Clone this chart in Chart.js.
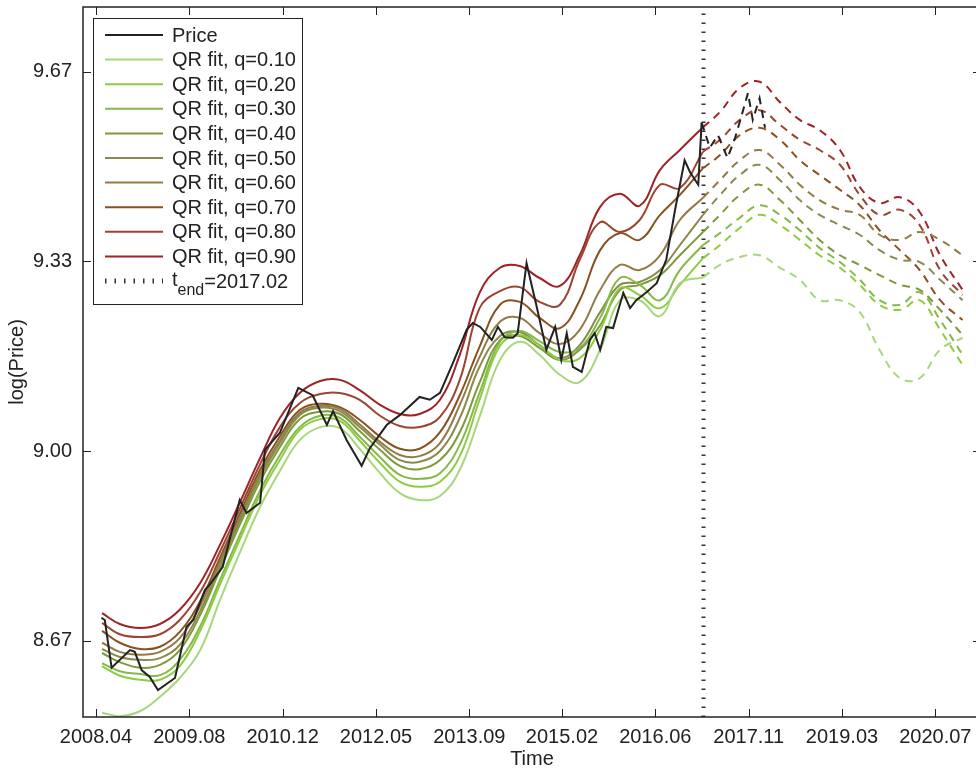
<!DOCTYPE html>
<html>
<head>
<meta charset="utf-8">
<script src="https://cdn.jsdelivr.net/npm/chart.js@4.4.0/dist/chart.umd.min.js"></script>
<style>
html, body { margin: 0; padding: 0; background: #fff; overflow: hidden; }
#wrap { width: 976px; height: 769px; overflow: hidden; }
canvas { display: block; }
</style>
</head>
<body>
<div id="wrap"><canvas id="c" width="1000" height="769"></canvas></div>
<script>
'use strict';
// Quantile-regression fits of log(price), in-sample (solid) and projected (dashed).

const T_END = 2017.16;
const X_TICKS = [2008.25, 2009.62, 2010.99, 2012.36, 2013.73, 2015.09, 2016.46, 2017.83, 2019.20, 2020.57];
const X_LABELS = ['2008.04', '2009.08', '2010.12', '2012.05', '2013.09', '2015.02', '2016.06', '2017.11', '2019.03', '2020.07'];
const Y_TICKS = [8.6667, 9.0, 9.3333, 9.6667];
const Y_LABELS = ['8.67', '9.00', '9.33', '9.67'];

const PRICE_T = [2008.33, 2008.38, 2008.48, 2008.75, 2008.82, 2008.92, 2009.04, 2009.16, 2009.41, 2009.58, 2009.68, 2009.85, 2009.92, 2010.11, 2010.36, 2010.46, 2010.66, 2010.73, 2010.95, 2011.22, 2011.43, 2011.64, 2011.73, 2011.93, 2012.15, 2012.27, 2012.52, 2012.71, 2013.00, 2013.15, 2013.30, 2013.49, 2013.69, 2013.78, 2013.89, 2014.06, 2014.15, 2014.25, 2014.37, 2014.44, 2014.57, 2014.72, 2014.86, 2014.99, 2015.08, 2015.16, 2015.25, 2015.38, 2015.50, 2015.57, 2015.65, 2015.74, 2015.84, 2015.99, 2016.09, 2016.18, 2016.33, 2016.48, 2016.62, 2016.75, 2016.89, 2016.97, 2017.09, 2017.14];
const PRICE_V = [8.707, 8.703, 8.619, 8.650, 8.647, 8.615, 8.603, 8.580, 8.601, 8.691, 8.703, 8.756, 8.765, 8.796, 8.914, 8.891, 8.909, 9.002, 9.032, 9.111, 9.098, 9.046, 9.070, 9.019, 8.974, 9.005, 9.046, 9.063, 9.095, 9.090, 9.102, 9.155, 9.213, 9.225, 9.218, 9.195, 9.218, 9.200, 9.199, 9.207, 9.330, 9.253, 9.178, 9.218, 9.160, 9.207, 9.148, 9.139, 9.195, 9.207, 9.178, 9.218, 9.216, 9.278, 9.251, 9.265, 9.279, 9.295, 9.336, 9.424, 9.511, 9.490, 9.468, 9.577];
const PRICE_OUT_T = [2017.14, 2017.26, 2017.38, 2017.52, 2017.63, 2017.73, 2017.82, 2017.89, 2017.99, 2018.07];
const PRICE_OUT_V = [9.577, 9.533, 9.555, 9.515, 9.550, 9.591, 9.629, 9.582, 9.620, 9.568];

const FIT_T = [2008.34, 2008.60, 2008.90, 2009.19, 2009.48, 2009.78, 2010.07, 2010.36, 2010.66, 2010.95, 2011.24, 2011.54, 2011.83, 2012.12, 2012.42, 2012.71, 2013.00, 2013.30, 2013.59, 2013.88, 2014.18, 2014.47, 2014.76, 2015.06, 2015.35, 2015.65, 2015.94, 2016.23, 2016.53, 2016.82, 2017.16];
const FIT_Q10 = [8.540, 8.534, 8.543, 8.568, 8.601, 8.650, 8.738, 8.821, 8.902, 8.965, 9.019, 9.042, 9.040, 9.004, 8.961, 8.926, 8.914, 8.921, 8.967, 9.060, 9.160, 9.192, 9.169, 9.134, 9.121, 9.178, 9.265, 9.265, 9.237, 9.295, 9.305];
const FIT_Q20 = [8.622, 8.605, 8.598, 8.598, 8.622, 8.684, 8.765, 8.844, 8.923, 8.984, 9.037, 9.056, 9.053, 9.018, 8.979, 8.946, 8.937, 8.946, 8.991, 9.090, 9.185, 9.204, 9.186, 9.160, 9.163, 9.213, 9.286, 9.274, 9.251, 9.292, 9.339];
const FIT_Q30 = [8.627, 8.613, 8.608, 8.606, 8.633, 8.692, 8.773, 8.852, 8.931, 8.993, 9.042, 9.062, 9.058, 9.025, 8.989, 8.958, 8.951, 8.961, 9.011, 9.102, 9.192, 9.211, 9.193, 9.174, 9.181, 9.234, 9.304, 9.292, 9.265, 9.318, 9.362];
const FIT_Q40 = [8.645, 8.629, 8.619, 8.624, 8.650, 8.712, 8.791, 8.870, 8.947, 9.007, 9.056, 9.069, 9.065, 9.035, 9.002, 8.974, 8.968, 8.984, 9.033, 9.120, 9.195, 9.202, 9.181, 9.160, 9.178, 9.221, 9.283, 9.292, 9.309, 9.344, 9.385];
const FIT_Q50 = [8.652, 8.638, 8.633, 8.636, 8.659, 8.719, 8.798, 8.877, 8.954, 9.014, 9.063, 9.076, 9.070, 9.042, 9.011, 8.984, 8.981, 9.000, 9.058, 9.148, 9.202, 9.209, 9.186, 9.163, 9.186, 9.244, 9.292, 9.297, 9.318, 9.362, 9.415];
const FIT_Q60 = [8.663, 8.647, 8.642, 8.647, 8.671, 8.728, 8.805, 8.882, 8.960, 9.019, 9.067, 9.079, 9.074, 9.047, 9.016, 8.993, 8.991, 9.014, 9.081, 9.165, 9.227, 9.234, 9.207, 9.188, 9.213, 9.283, 9.327, 9.318, 9.344, 9.406, 9.445];
const FIT_Q70 = [8.684, 8.663, 8.652, 8.656, 8.682, 8.736, 8.812, 8.889, 8.967, 9.026, 9.072, 9.083, 9.077, 9.055, 9.025, 9.004, 9.004, 9.033, 9.098, 9.183, 9.257, 9.262, 9.234, 9.216, 9.265, 9.353, 9.383, 9.371, 9.415, 9.450, 9.497];
const FIT_Q80 = [8.698, 8.678, 8.673, 8.678, 8.703, 8.752, 8.823, 8.898, 8.977, 9.042, 9.084, 9.100, 9.102, 9.090, 9.062, 9.044, 9.042, 9.060, 9.125, 9.251, 9.281, 9.288, 9.262, 9.257, 9.336, 9.402, 9.385, 9.406, 9.468, 9.462, 9.526];
const FIT_Q90 = [8.715, 8.696, 8.689, 8.696, 8.721, 8.768, 8.835, 8.909, 8.988, 9.058, 9.102, 9.123, 9.125, 9.107, 9.081, 9.065, 9.065, 9.090, 9.169, 9.278, 9.322, 9.325, 9.304, 9.290, 9.344, 9.429, 9.452, 9.431, 9.494, 9.529, 9.569];

const PROJ_T = [2017.16, 2017.41, 2017.70, 2017.99, 2018.29, 2018.58, 2018.87, 2019.17, 2019.46, 2019.75, 2020.05, 2020.34, 2020.64, 2020.97];
const PROJ_Q10 = [9.305, 9.327, 9.341, 9.344, 9.322, 9.301, 9.265, 9.265, 9.244, 9.178, 9.128, 9.128, 9.178, 9.199];
const PROJ_Q20 = [9.339, 9.362, 9.392, 9.415, 9.397, 9.371, 9.344, 9.322, 9.292, 9.257, 9.248, 9.265, 9.213, 9.151];
const PROJ_Q30 = [9.362, 9.383, 9.410, 9.432, 9.415, 9.388, 9.357, 9.332, 9.301, 9.265, 9.257, 9.279, 9.230, 9.169];
const PROJ_Q40 = [9.385, 9.415, 9.450, 9.468, 9.441, 9.406, 9.371, 9.344, 9.327, 9.309, 9.292, 9.283, 9.248, 9.204];
const PROJ_Q50 = [9.415, 9.450, 9.485, 9.503, 9.476, 9.441, 9.415, 9.397, 9.380, 9.353, 9.336, 9.332, 9.301, 9.265];
const PROJ_Q60 = [9.445, 9.476, 9.511, 9.529, 9.503, 9.468, 9.441, 9.424, 9.415, 9.380, 9.371, 9.385, 9.371, 9.344];
const PROJ_Q70 = [9.497, 9.520, 9.555, 9.568, 9.547, 9.511, 9.485, 9.459, 9.432, 9.388, 9.353, 9.318, 9.265, 9.230];
const PROJ_Q80 = [9.526, 9.547, 9.582, 9.599, 9.573, 9.547, 9.529, 9.503, 9.450, 9.415, 9.424, 9.397, 9.318, 9.274];
const PROJ_Q90 = [9.569, 9.596, 9.638, 9.649, 9.613, 9.582, 9.564, 9.529, 9.464, 9.436, 9.446, 9.420, 9.344, 9.283];

const Q_LABELS = ['0.10', '0.20', '0.30', '0.40', '0.50', '0.60', '0.70', '0.80', '0.90'];
const Q_COLORS = ['#a8d67c', '#8ccd3f', '#84b94a', '#7d9a39', '#8a8a4c', '#927b45', '#8a5120', '#9b4531', '#a02227'];
const FITS = [FIT_Q10, FIT_Q20, FIT_Q30, FIT_Q40, FIT_Q50, FIT_Q60, FIT_Q70, FIT_Q80, FIT_Q90];
const PROJS = [PROJ_Q10, PROJ_Q20, PROJ_Q30, PROJ_Q40, PROJ_Q50, PROJ_Q60, PROJ_Q70, PROJ_Q80, PROJ_Q90];

const FONT = '"Liberation Sans", Arial, Helvetica, sans-serif';
const INK = '#222';
Chart.defaults.font.family = FONT;
Chart.defaults.font.size = 20;
Chart.defaults.color = INK;

const pts = (t, v) => t.map((x, i) => ({ x, y: v[i] }));

const datasets = [
  { data: pts(PRICE_T, PRICE_V), borderColor: INK, borderWidth: 2, tension: 0 },
  { data: pts(PRICE_OUT_T, PRICE_OUT_V), borderColor: INK, borderWidth: 2, borderDash: [8, 6], tension: 0 },
];
FITS.forEach((v, i) => datasets.push({ data: pts(FIT_T, v), borderColor: Q_COLORS[i], borderWidth: 2, tension: 0.4 }));
PROJS.forEach((v, i) => datasets.push({ data: pts(PROJ_T, v), borderColor: Q_COLORS[i], borderWidth: 2, borderDash: [8, 6], tension: 0.4 }));
datasets.forEach(d => { d.pointRadius = 0; d.fill = false; });

// box, inward ticks, t_end marker and the legend
const decor = {
  id: 'decor',
  beforeDatasetsDraw(chart) {
    const { ctx, chartArea: a, scales: { x } } = chart;
    const px = Math.round(x.getPixelForValue(T_END)) + 0.5;
    ctx.save();
    ctx.strokeStyle = '#333'; ctx.lineWidth = 4; ctx.setLineDash([1.5, 7.5]);
    ctx.beginPath(); ctx.moveTo(px, a.bottom); ctx.lineTo(px, a.top); ctx.stroke();
    ctx.restore();
  },
  afterDatasetsDraw(chart) {
    const { ctx, chartArea: a, scales: { x, y } } = chart;
    const TL = 8;
    ctx.save();
    ctx.strokeStyle = INK; ctx.lineWidth = 1.5;
    ctx.strokeRect(a.left, a.top, a.right - a.left, a.bottom - a.top);
    ctx.lineWidth = 1;
    ctx.beginPath();
    X_TICKS.forEach(v => {
      const p = Math.round(x.getPixelForValue(v)) + 0.5;
      ctx.moveTo(p, a.bottom); ctx.lineTo(p, a.bottom - TL);
      ctx.moveTo(p, a.top); ctx.lineTo(p, a.top + TL);
    });
    Y_TICKS.forEach(v => {
      const p = Math.round(y.getPixelForValue(v)) + 0.5;
      ctx.moveTo(a.left, p); ctx.lineTo(a.left + TL, p);
      ctx.moveTo(a.right, p); ctx.lineTo(a.right - TL, p);
    });
    ctx.stroke();

    // legend
    const bx = 93.5, by = 18.5, bw = 209, bh = 286, row0 = 35, dy = 24.6;
    ctx.fillStyle = '#fff'; ctx.fillRect(bx, by, bw, bh);
    ctx.strokeStyle = INK; ctx.lineWidth = 1; ctx.strokeRect(bx, by, bw, bh);
    const items = [{ text: 'Price', color: INK }].concat(Q_LABELS.map((q, i) => ({ text: 'QR fit, q=' + q, color: Q_COLORS[i] })));
    ctx.textBaseline = 'middle'; ctx.textAlign = 'left';
    items.forEach((it, i) => {
      const yy = row0 + i * dy;
      ctx.strokeStyle = it.color; ctx.lineWidth = 2;
      ctx.beginPath(); ctx.moveTo(105, yy); ctx.lineTo(163, yy); ctx.stroke();
      ctx.fillStyle = INK; ctx.font = '20px ' + FONT;
      ctx.fillText(it.text, 172, yy + 1);
    });
    const yt = row0 + items.length * dy;
    ctx.strokeStyle = '#333'; ctx.lineWidth = 5; ctx.setLineDash([1.5, 8]);
    ctx.beginPath(); ctx.moveTo(105, yt); ctx.lineTo(163, yt); ctx.stroke();
    ctx.setLineDash([]);
    ctx.fillStyle = INK;
    ctx.font = '20px ' + FONT; ctx.fillText('t', 172, yt - 1);
    const tw = ctx.measureText('t').width;
    ctx.font = '16px ' + FONT; ctx.fillText('end', 172 + tw, yt + 10);
    const ew = ctx.measureText('end').width;
    ctx.font = '20px ' + FONT; ctx.fillText('=2017.02', 172 + tw + ew, yt + 1);
    ctx.restore();
  },
};

new Chart(document.getElementById('c'), {
  type: 'line',
  data: { datasets },
  options: {
    responsive: false,
    animation: false,
    devicePixelRatio: 1,
    layout: { padding: { top: 7, right: 19, left: 0, bottom: 0 } },
    plugins: { legend: { display: false }, tooltip: { enabled: false } },
    scales: {
      x: {
        type: 'linear', min: 2008.06, max: 2021.24,
        grid: { display: false, drawTicks: false }, border: { display: false },
        afterBuildTicks: s => { s.ticks = X_TICKS.map(v => ({ value: v })); },
        afterFit: s => { s.height = 52; s.paddingLeft = 0; s.paddingRight = 0; },
        ticks: { autoSkip: false, maxRotation: 0, padding: 8, callback: (v, i) => X_LABELS[i] },
        title: { display: true, text: 'Time', font: { size: 20, lineHeight: 1 }, padding: { top: 0, bottom: 0 } },
      },
      y: {
        min: 8.5325, max: 9.7803,
        grid: { display: false, drawTicks: false }, border: { display: false },
        afterBuildTicks: s => { s.ticks = Y_TICKS.map(v => ({ value: v })); },
        afterFit: s => { s.width = 83; s.paddingTop = 0; s.paddingBottom = 0; },
        ticks: { autoSkip: false, padding: 11, callback: (v, i) => Y_LABELS[i] },
        title: { display: true, text: 'log(Price)', font: { size: 20, lineHeight: 1 }, padding: { top: 7, bottom: 0 } },
      },
    },
  },
  plugins: [decor],
});
</script>
</body>
</html>
